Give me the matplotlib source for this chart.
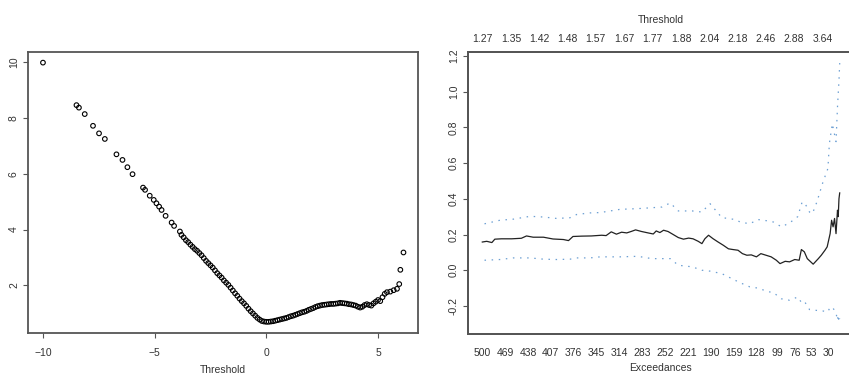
import numpy as np
import matplotlib
matplotlib.use("Agg")
import matplotlib.pyplot as plt

plt.rcParams['font.family'] = ['Liberation Sans', 'DejaVu Sans']

# ---- left panel: mean excess vs threshold ----
thr = [-10.0, -8.5, -8.39, -8.13, -7.76, -7.49, -7.23, -6.71, -6.44, -6.22, -5.99,
       -5.52, -5.43, -5.22, -5.04, -4.92, -4.80, -4.69, -4.51, -4.24, -4.13, -3.87, -3.80,
       -3.70, -3.60, -3.50, -3.40, -3.30, -3.20, -3.10, -3.00, -2.90, -2.80, -2.70, -2.60,
       -2.50, -2.40, -2.30, -2.20, -2.10, -2.00, -1.90, -1.80, -1.70, -1.60, -1.50, -1.40,
       -1.30, -1.20, -1.10, -1.00, -0.90, -0.80, -0.70, -0.60, -0.50, -0.40, -0.30, -0.20,
       -0.10, 0.00, 0.10, 0.20, 0.30, 0.40, 0.50, 0.60, 0.70, 0.80, 0.90, 1.00, 1.10, 1.20,
       1.30, 1.40, 1.50, 1.60, 1.70, 1.80, 1.90, 2.00, 2.10, 2.20, 2.30, 2.40, 2.50, 2.60,
       2.70, 2.80, 2.90, 3.00, 3.10, 3.20, 3.30, 3.40, 3.50, 3.60, 3.70, 3.80, 3.90, 4.00,
       4.10, 4.20, 4.30, 4.40, 4.50, 4.60, 4.70, 4.80, 4.90, 5.00, 5.10, 5.20, 5.30, 5.40,
       5.55, 5.70, 5.85, 5.95, 6.00, 6.14]
mean_excess = [9.97, 8.45, 8.36, 8.13, 7.71, 7.44, 7.24, 6.69, 6.49, 6.23, 5.98,
               5.50, 5.42, 5.21, 5.06, 4.94, 4.82, 4.70, 4.49, 4.25, 4.13, 3.93, 3.81,
               3.72, 3.62, 3.55, 3.46, 3.38, 3.30, 3.24, 3.16, 3.08, 2.98, 2.88, 2.80,
               2.72, 2.64, 2.54, 2.44, 2.36, 2.28, 2.18, 2.10, 2.02, 1.92, 1.82, 1.72,
               1.63, 1.53, 1.44, 1.36, 1.27, 1.17, 1.08, 1.00, 0.92, 0.84, 0.78, 0.73,
               0.71, 0.70, 0.70, 0.71, 0.72, 0.74, 0.76, 0.78, 0.80, 0.82, 0.84, 0.87, 0.90, 0.92,
               0.95, 0.98, 1.01, 1.04, 1.06, 1.09, 1.13, 1.16, 1.19, 1.23, 1.26, 1.28, 1.30, 1.31,
               1.32, 1.33, 1.34, 1.34, 1.35, 1.36, 1.38, 1.37, 1.36, 1.35, 1.33, 1.32, 1.30, 1.28,
               1.24, 1.21, 1.24, 1.30, 1.33, 1.30, 1.28, 1.36, 1.42, 1.48, 1.44, 1.58, 1.70, 1.76,
               1.78, 1.83, 1.88, 2.05, 2.56, 3.18]

# ---- right panel: shape estimate vs exceedances ----
exc = [500, 494, 487, 483, 474, 460, 447, 440, 431, 417, 404, 390, 383, 377, 365, 352,
       338, 332, 325, 318, 311, 304, 298, 292, 284, 275, 268, 264, 259, 254, 248, 243,
       234, 227, 220, 214, 207, 202, 198, 193, 187, 180, 173, 166, 160, 153, 147, 141,
       135, 128, 122, 115, 108, 101, 96, 89, 83, 76, 70, 67, 63, 59, 51, 44, 40, 35, 32,
       28, 26, 24, 22, 20, 18, 17, 16, 15]
shape = [0.158, 0.162, 0.155, 0.174, 0.176, 0.176, 0.179, 0.192, 0.185, 0.185, 0.175,
         0.172, 0.166, 0.189, 0.191, 0.192, 0.196, 0.194, 0.215, 0.202, 0.213, 0.209,
         0.217, 0.226, 0.217, 0.209, 0.203, 0.220, 0.211, 0.224, 0.217, 0.205, 0.183,
         0.174, 0.180, 0.176, 0.162, 0.149, 0.176, 0.196, 0.177, 0.158, 0.140, 0.120,
         0.116, 0.112, 0.093, 0.084, 0.086, 0.075, 0.093, 0.084, 0.075, 0.056, 0.037,
         0.050, 0.047, 0.060, 0.056, 0.116, 0.103, 0.065, 0.034, 0.065, 0.084, 0.112,
         0.131, 0.205, 0.280, 0.243, 0.290, 0.205, 0.336, 0.300, 0.400, 0.433]

ci_exc = [497, 476, 458, 435, 417, 399, 381, 372, 354, 340, 313, 289, 270, 256, 245,
          234, 215, 202, 191, 175, 157, 150, 137, 126, 112, 105, 94, 83, 72, 66, 62, 56,
          52, 46, 38, 31, 29, 25, 20, 18, 17, 16, 15]
ci_upper = [0.260, 0.280, 0.286, 0.302, 0.298, 0.290, 0.294, 0.312, 0.321, 0.323, 0.341,
            0.345, 0.350, 0.354, 0.377, 0.332, 0.332, 0.326, 0.373, 0.295, 0.284, 0.270,
            0.260, 0.284, 0.276, 0.270, 0.243, 0.265, 0.300, 0.382, 0.373, 0.326, 0.317,
            0.382, 0.490, 0.570, 0.710, 0.820, 0.720, 0.914, 0.990, 1.060, 1.160]
ci_lower = [0.056, 0.060, 0.069, 0.069, 0.062, 0.060, 0.062, 0.069, 0.069, 0.075, 0.075,
            0.078, 0.065, 0.065, 0.065, 0.028, 0.019, 0.000, -0.005, -0.019, -0.056,
            -0.070, -0.093, -0.100, -0.120, -0.125, -0.160, -0.168, -0.150, -0.186,
            -0.180, -0.220, -0.222, -0.225, -0.228, -0.233, -0.215, -0.205, -0.240,
            -0.280, -0.250, -0.290, -0.270]

bottom_ticks = [500, 469, 438, 407, 376, 345, 314, 283, 252, 221, 190, 159, 128, 99, 76, 53, 30]
top_tick_pos = [500, 461, 423, 384, 346, 307, 269, 230, 192, 153, 115, 77, 38]
top_tick_labels = ['1.27', '1.35', '1.42', '1.48', '1.57', '1.67', '1.77', '1.88',
                   '2.04', '2.18', '2.46', '2.88', '3.64']

W, H = 849, 375
fig = plt.figure(figsize=(W / 100, H / 100), dpi=100)
txt = '#333333'
edge = '#555555'

def px_axes(l, t, r, b):
    return fig.add_axes([l / W, 1 - b / H, (r - l) / W, (b - t) / H])

# left
ax1 = px_axes(28, 52, 418, 333)
ax1.scatter(thr, mean_excess, s=11, facecolors='none', edgecolors='black', linewidths=0.8)
ax1.set_xlim(-10.67, 6.79)
ax1.set_ylim(0.30, 10.35)
ax1.set_xticks([-10, -5, 0, 5])
ax1.set_yticks([2, 4, 6, 8, 10])
ax1.set_xlabel('Threshold', fontsize=7.5, color=txt, labelpad=5)
ax1.tick_params(axis='x', length=3.5, width=0.8, color=edge, labelsize=7.5,
                labelcolor=txt, pad=7)
ax1.tick_params(axis='y', length=3.5, width=0.8, color=edge, labelsize=7.5,
                labelcolor=txt, pad=3, labelrotation=90)
for lab in ax1.get_yticklabels():
    lab.set_va('center')

# right
ax2 = px_axes(468, 52, 854, 334)
ax2.plot(exc, shape, color='#222222', lw=0.9)
ax2.plot(ci_exc, ci_upper, color='#6c9fd3', lw=0.9, linestyle=(0, (1.2, 4.5)))
ax2.plot(ci_exc, ci_lower, color='#6c9fd3', lw=0.9, linestyle=(0, (1.2, 4.5)))
ax2.set_xlim(519.4, -4.4)
ax2.set_ylim(-0.357, 1.222)
ax2.set_xticks(bottom_ticks)
ax2.set_xticklabels([str(v) for v in bottom_ticks])
ax2.set_yticks([-0.2, 0.0, 0.2, 0.4, 0.6, 0.8, 1.0, 1.2])
ax2.set_yticklabels(['-0.2', '0.0', '0.2', '0.4', '0.6', '0.8', '1.0', '1.2'])
ax2.set_xlabel('Exceedances', fontsize=7.5, color=txt, labelpad=4)
ax2.tick_params(axis='x', length=0, labelsize=7.5, labelcolor=txt, pad=10)
ax2.tick_params(axis='y', length=3.5, width=0.8, color=edge, labelsize=7.5,
                labelcolor=txt, pad=3, labelrotation=90)
for lab in ax2.get_yticklabels():
    lab.set_va('center')

ax3 = ax2.twiny()
ax3.set_xlim(ax2.get_xlim())
ax3.set_xticks(top_tick_pos)
ax3.set_xticklabels(top_tick_labels)
ax3.set_xlabel('Threshold', fontsize=7.5, color=txt, labelpad=8)
ax3.tick_params(axis='x', length=0, labelsize=7.5, labelcolor=txt, pad=6)

for ax in (ax1, ax2, ax3):
    for sp in ax.spines.values():
        sp.set_color(edge)
        sp.set_linewidth(1.3)

fig.savefig('out.png', dpi=100)
